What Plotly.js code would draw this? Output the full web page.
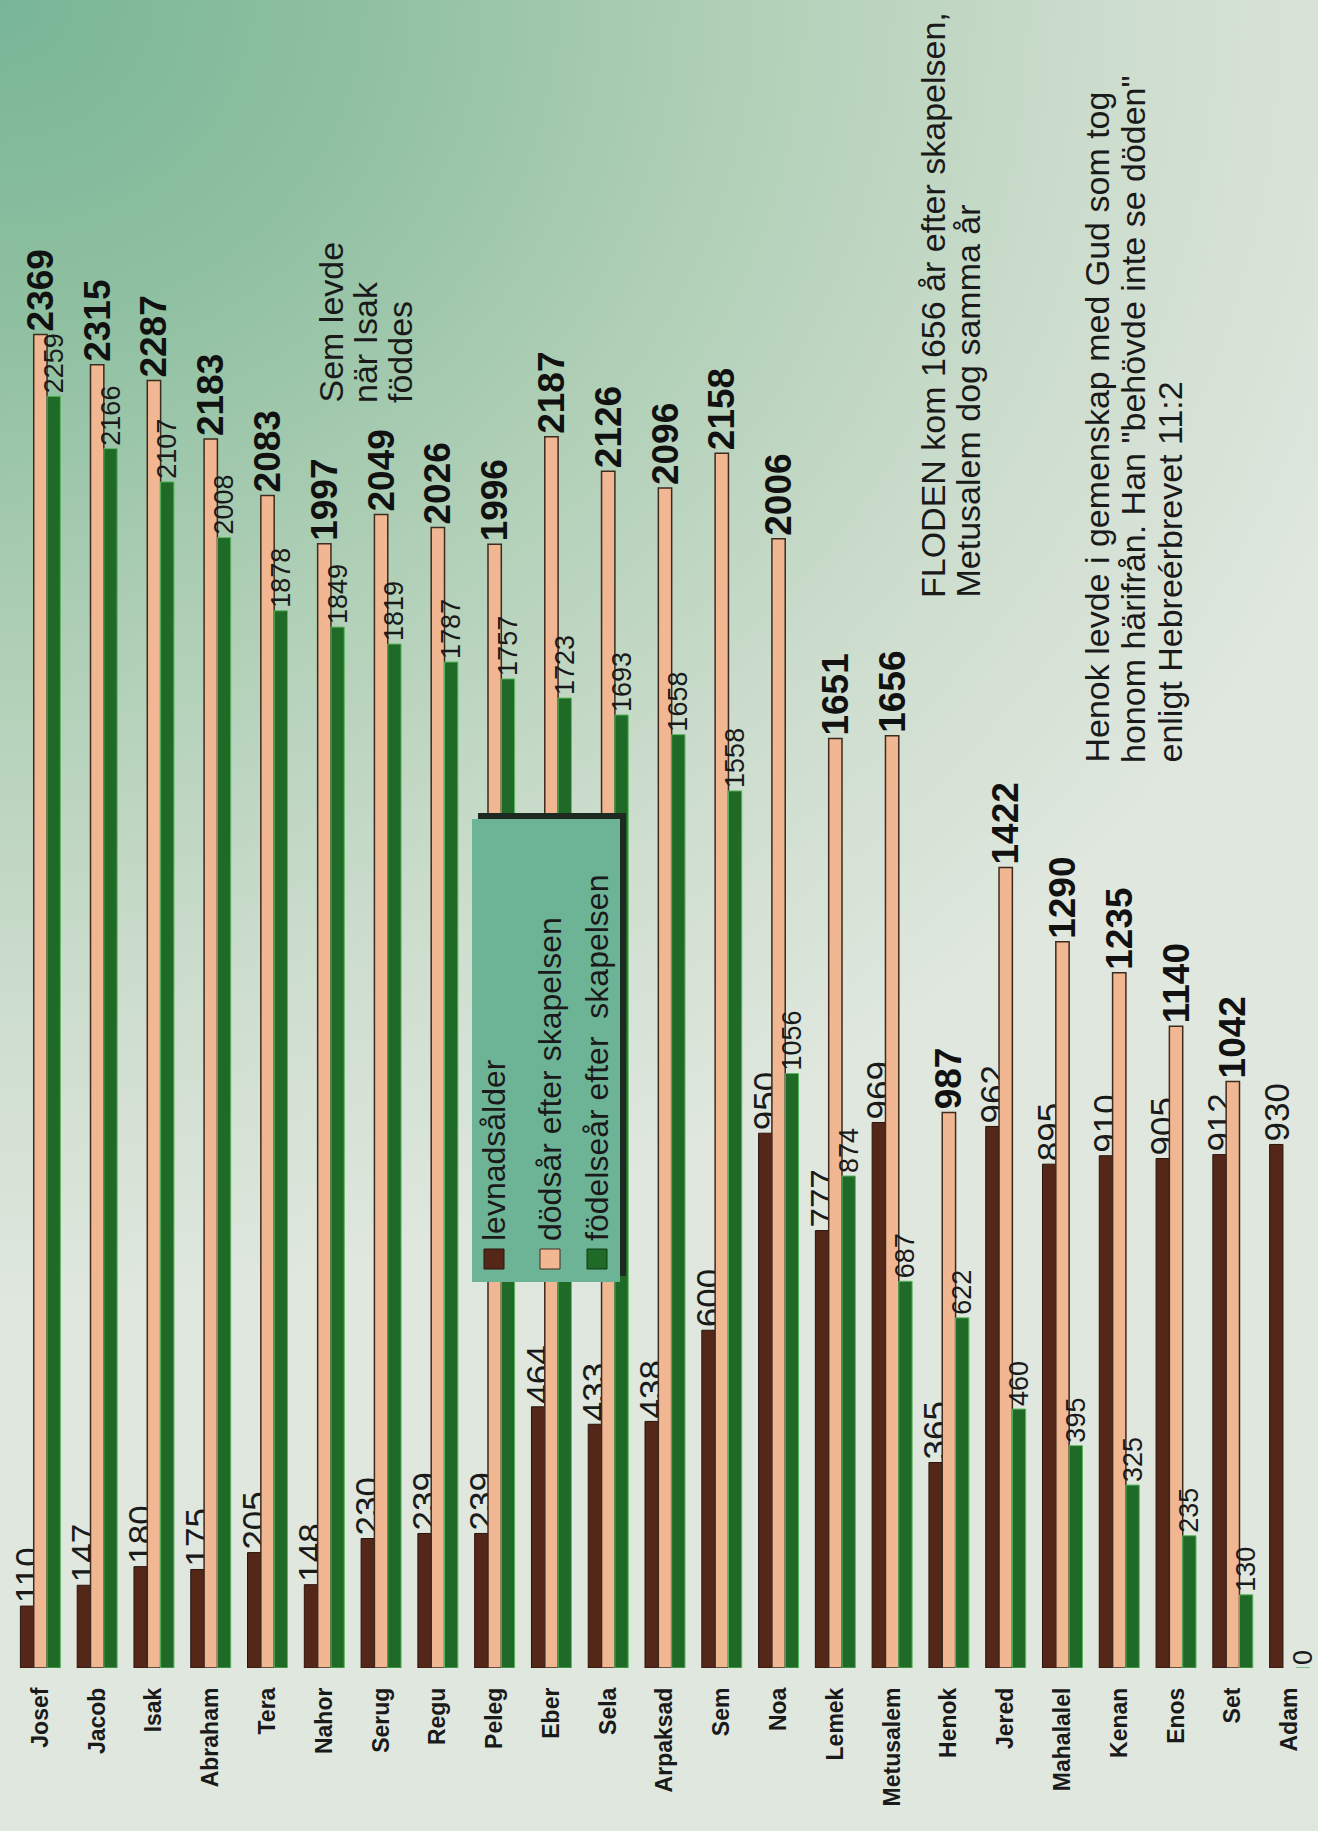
<!DOCTYPE html>
<html>
<head>
<meta charset="utf-8">
<script src="https://cdn.plot.ly/plotly-3.0.1.min.js"></script>
<style>
html,body{margin:0;padding:0;}
body{width:1318px;height:1831px;overflow:hidden;
 background:
  radial-gradient(ellipse 1450px 1300px at 0 0, #78b697 0%, #8fc0a1 25%, #afcfb6 50%, #cbdccc 75%, #dfe7de 100%);}
#chart{width:1318px;height:1831px;}
</style>
</head>
<body>
<div id="chart"></div>
<script>
const names = ['Josef','Jacob','Isak','Abraham','Tera','Nahor','Serug','Regu','Peleg','Eber','Sela','Arpaksad','Sem','Noa','Lemek','Metusalem','Henok','Jered','Mahalalel','Kenan','Enos','Set','Adam'];
const levnadsalder = [110,147,180,175,205,148,230,239,239,464,433,438,600,950,777,969,365,962,895,910,905,912,930];
const dodsar = [2369,2315,2287,2183,2083,1997,2049,2026,1996,2187,2126,2096,2158,2006,1651,1656,987,1422,1290,1235,1140,1042,null];
const fodelsear = [2259,2166,2107,2008,1878,1849,1819,1787,1757,1723,1693,1658,1558,1056,874,687,622,460,395,325,235,130,0];
const seriesNames = ['levnadsålder','dödsår efter skapelsen','födelseår efter&nbsp; skapelsen'];

const W=1318,H=1831,L=12,R=0,T=0,B=163;
const pw=W-L-R, ph=H-T-B;
const px=p=>(p-L)/pw, py=p=>(H-B-p)/ph;
const FONT='Liberation Sans, Arial, Helvetica, sans-serif';
const txt = a => a.map(v => v===null ? '' : String(v));

const cBrown='#552719', cSalmon='#f1b793', cGreen='#1f6a27';

const traces = [
 {type:'bar', name:seriesNames[0], x:names, y:levnadsalder, text:txt(levnadsalder),
  marker:{color:cBrown, line:{color:'#2a140c', width:1}},
  textposition:'outside', textangle:-90, constraintext:'none', cliponaxis:false,
  textfont:{family:FONT, size:35, color:'#1a1a1a'}},
 {type:'bar', name:seriesNames[1], x:names, y:dodsar, text:txt(dodsar),
  marker:{color:cSalmon, line:{color:'#3d2b1f', width:1.5}},
  textposition:'outside', textangle:-90, constraintext:'none', cliponaxis:false,
  textfont:{family:FONT, size:37, color:'#111', weight:'bold'}},
 {type:'bar', name:seriesNames[2], x:names, y:fodelsear, text:txt(fodelsear),
  marker:{color:cGreen, line:{color:'#5cb860', width:1}},
  textposition:'outside', textangle:-90, constraintext:'none', cliponaxis:false,
  textfont:{family:FONT, size:27, color:'#1a1a1a'}}
];

const ann = (text, xc, ybottom, size, extra) => Object.assign({
  text:text, xref:'paper', yref:'paper', x:px(xc), y:py(ybottom),
  xanchor:'center', yanchor:'bottom', textangle:-90, showarrow:false,
  font:{family:FONT, size:size, color:'#1a1a1a'}, align:'left'}, extra||{});

const annotations = [
 ann('Sem levde', 330, 405, 34),
 ann('när Isak', 365, 405, 34),
 ann('föddes', 400, 405, 34),
 ann('FLODEN kom 1656 år efter skapelsen,', 933, 600, 34),
 ann('Metusalem dog samma år', 967, 600, 34),
 ann('Henok levde i gemenskap med Gud som tog', 1096, 765, 34),
 ann('honom härifrån. Han "behövde inte se döden"', 1133, 765, 34),
 ann('enligt Hebreérbrevet 11:2', 1169, 765, 34),
 ann(seriesNames[0], 494, 1243, 32),
 ann(seriesNames[1], 550, 1243, 32),
 ann(seriesNames[2], 597, 1243, 32)
];

const rect = (x0,y0,x1,y1,fill,line,lw) => ({type:'rect', xref:'paper', yref:'paper',
  x0:px(x0), x1:px(x1), y0:py(y1), y1:py(y0), fillcolor:fill,
  line:{color:line||fill, width:lw||0}, layer:'above'});

const shapes = [
 rect(478,813,626,1276,'#1d2a21'),
 rect(472,819,620,1282,'#6db496'),
 rect(484,1249,504,1269,cBrown,'#2a140c',1),
 rect(540,1249,560,1269,cSalmon,'#3d2b1f',1),
 rect(587,1249,607,1269,cGreen,'#0f3a14',1)
];

const layout = {
 width:W, height:H,
 margin:{l:L, r:R, t:T, b:B, pad:0},
 paper_bgcolor:'rgba(0,0,0,0)', plot_bgcolor:'rgba(0,0,0,0)',
 barmode:'group', bargap:0.296, bargroupgap:0,
 showlegend:false,
 xaxis:{type:'category', tickangle:-90, showgrid:false, zeroline:false, showline:false,
   ticks:'', ticklabelstandoff:14,
   tickfont:{family:FONT, size:23, color:'#1a1a1a', weight:'bold'}},
 yaxis:{range:[0,2963], showgrid:false, zeroline:false, showline:false,
   showticklabels:false, ticks:''},
 annotations:annotations, shapes:shapes,
 hovermode:false
};

Plotly.newPlot('chart', traces, layout, {displayModeBar:false, staticPlot:true});
</script>
</body>
</html>
